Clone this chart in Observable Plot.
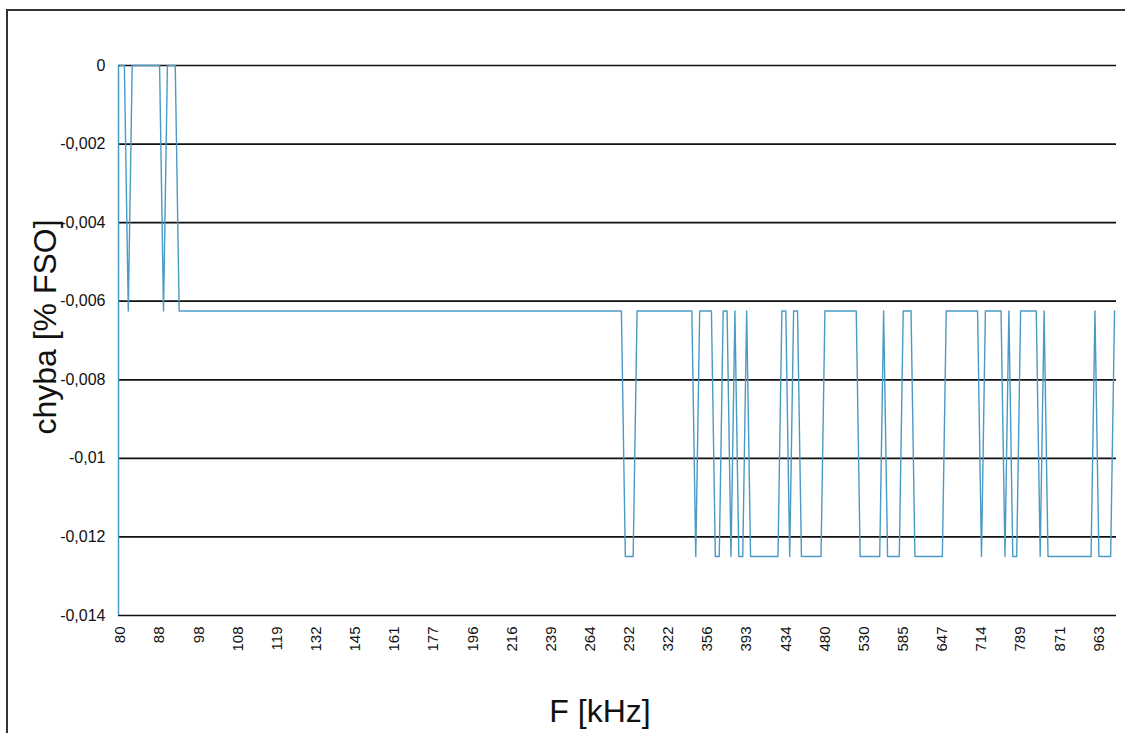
<!DOCTYPE html>
<html>
<head>
<meta charset="utf-8">
<script src="https://cdn.jsdelivr.net/npm/d3@7"></script>
<script src="https://cdn.jsdelivr.net/npm/@observablehq/plot@0.6"></script>
<style>
  html, body { margin: 0; padding: 0; background: #fff; overflow: hidden; }
  #wrap { position: relative; width: 1125px; height: 733px; overflow: hidden; font-family: "Liberation Sans", Arial, sans-serif; }
  #frame { position: absolute; left: 6px; top: 9px; width: 1140px; height: 760px; border: 2px solid #333; box-sizing: border-box; }
  #chart { position: absolute; left: 0; top: 0; }
  .title { position: absolute; white-space: nowrap; color: #111; font-size: 32px; transform: translate(-50%, -50%); }
  #ytitle { left: 45px; top: 327px; transform: translate(-50%, -50%) rotate(-90deg); }
  #xtitle { left: 600px; top: 711px; }
</style>
</head>
<body>
<div id="wrap">
  <div id="frame"></div>
  <div id="chart"></div>
  <div class="title" id="ytitle">chyba [% FSO]</div>
  <div class="title" id="xtitle">F [kHz]</div>
</div>
<script>
// x tick labels (frequency in kHz) and the sample index at which each appears
const xTickIndex = [0, 10, 20, 30, 40, 50, 60, 70, 80, 90, 100, 110, 120, 130, 140, 150, 160, 170, 180, 190, 200, 210, 220, 230, 240, 250];
const xTickLabels = ["80", "88", "98", "108", "119", "132", "145", "161", "177", "196", "216", "239", "264", "292", "322", "356", "393", "434", "480", "530", "585", "647", "714", "789", "871", "963"];

// y ticks
const yTicks = [0, -0.002, -0.004, -0.006, -0.008, -0.01, -0.012, -0.014];
const yTickLabels = ["0", "-0,002", "-0,004", "-0,006", "-0,008", "-0,01", "-0,012", "-0,014"];

// error series (chyba, % FSO), one value per frequency step
const chyba = [
  0, 0, -0.00625, 0, 0, 0, 0, 0, 0, 0,
  0, -0.00625, 0, 0, 0, -0.00625, -0.00625, -0.00625, -0.00625, -0.00625,
  -0.00625, -0.00625, -0.00625, -0.00625, -0.00625, -0.00625, -0.00625, -0.00625, -0.00625, -0.00625,
  -0.00625, -0.00625, -0.00625, -0.00625, -0.00625, -0.00625, -0.00625, -0.00625, -0.00625, -0.00625,
  -0.00625, -0.00625, -0.00625, -0.00625, -0.00625, -0.00625, -0.00625, -0.00625, -0.00625, -0.00625,
  -0.00625, -0.00625, -0.00625, -0.00625, -0.00625, -0.00625, -0.00625, -0.00625, -0.00625, -0.00625,
  -0.00625, -0.00625, -0.00625, -0.00625, -0.00625, -0.00625, -0.00625, -0.00625, -0.00625, -0.00625,
  -0.00625, -0.00625, -0.00625, -0.00625, -0.00625, -0.00625, -0.00625, -0.00625, -0.00625, -0.00625,
  -0.00625, -0.00625, -0.00625, -0.00625, -0.00625, -0.00625, -0.00625, -0.00625, -0.00625, -0.00625,
  -0.00625, -0.00625, -0.00625, -0.00625, -0.00625, -0.00625, -0.00625, -0.00625, -0.00625, -0.00625,
  -0.00625, -0.00625, -0.00625, -0.00625, -0.00625, -0.00625, -0.00625, -0.00625, -0.00625, -0.00625,
  -0.00625, -0.00625, -0.00625, -0.00625, -0.00625, -0.00625, -0.00625, -0.00625, -0.00625, -0.00625,
  -0.00625, -0.00625, -0.00625, -0.00625, -0.00625, -0.00625, -0.00625, -0.00625, -0.00625, -0.0125,
  -0.0125, -0.0125, -0.00625, -0.00625, -0.00625, -0.00625, -0.00625, -0.00625, -0.00625, -0.00625,
  -0.00625, -0.00625, -0.00625, -0.00625, -0.00625, -0.00625, -0.00625, -0.0125, -0.00625, -0.00625,
  -0.00625, -0.00625, -0.0125, -0.0125, -0.00625, -0.00625, -0.0125, -0.00625, -0.0125, -0.0125,
  -0.00625, -0.0125, -0.0125, -0.0125, -0.0125, -0.0125, -0.0125, -0.0125, -0.0125, -0.00625,
  -0.00625, -0.0125, -0.00625, -0.00625, -0.0125, -0.0125, -0.0125, -0.0125, -0.0125, -0.0125,
  -0.00625, -0.00625, -0.00625, -0.00625, -0.00625, -0.00625, -0.00625, -0.00625, -0.00625, -0.0125,
  -0.0125, -0.0125, -0.0125, -0.0125, -0.0125, -0.00625, -0.0125, -0.0125, -0.0125, -0.0125,
  -0.00625, -0.00625, -0.00625, -0.0125, -0.0125, -0.0125, -0.0125, -0.0125, -0.0125, -0.0125,
  -0.0125, -0.00625, -0.00625, -0.00625, -0.00625, -0.00625, -0.00625, -0.00625, -0.00625, -0.00625,
  -0.0125, -0.00625, -0.00625, -0.00625, -0.00625, -0.00625, -0.0125, -0.00625, -0.0125, -0.0125,
  -0.00625, -0.00625, -0.00625, -0.00625, -0.00625, -0.0125, -0.00625, -0.0125, -0.0125, -0.0125,
  -0.0125, -0.0125, -0.0125, -0.0125, -0.0125, -0.0125, -0.0125, -0.0125, -0.0125, -0.00625,
  -0.0125, -0.0125, -0.0125, -0.0125, -0.00625
];

const lineColor = "#4a9ac6";
const xDomain = [-0.5, chyba.length - 0.5];

const chart = Plot.plot({
  width: 1125,
  height: 733,
  marginLeft: 118,
  marginRight: 9,
  marginTop: 65,
  marginBottom: 118,
  style: { fontFamily: "'Liberation Sans', Arial, sans-serif", background: "transparent", color: "#111" },
  x: { domain: xDomain },
  y: { domain: [-0.014, 0] },
  marks: [
    Plot.ruleY(yTicks, { stroke: "#111", strokeWidth: 1.7 }),
    Plot.ruleX([xDomain[0]], { stroke: lineColor, strokeWidth: 1.5 }),
    Plot.lineY(chyba, { x: (d, i) => i, y: d => d, stroke: lineColor, strokeWidth: 1.4 }),
    Plot.axisY({ ticks: yTicks, tickFormat: d => yTickLabels[yTicks.indexOf(d)], tickSize: 0, tickPadding: 13, fontSize: 16, label: null }),
    Plot.axisX({ ticks: xTickIndex, tickFormat: d => xTickLabels[xTickIndex.indexOf(d)], tickRotate: -90, tickSize: 0, tickPadding: 11, fontSize: 15, label: null })
  ]
});
document.getElementById("chart").appendChild(chart);
</script>
</body>
</html>
